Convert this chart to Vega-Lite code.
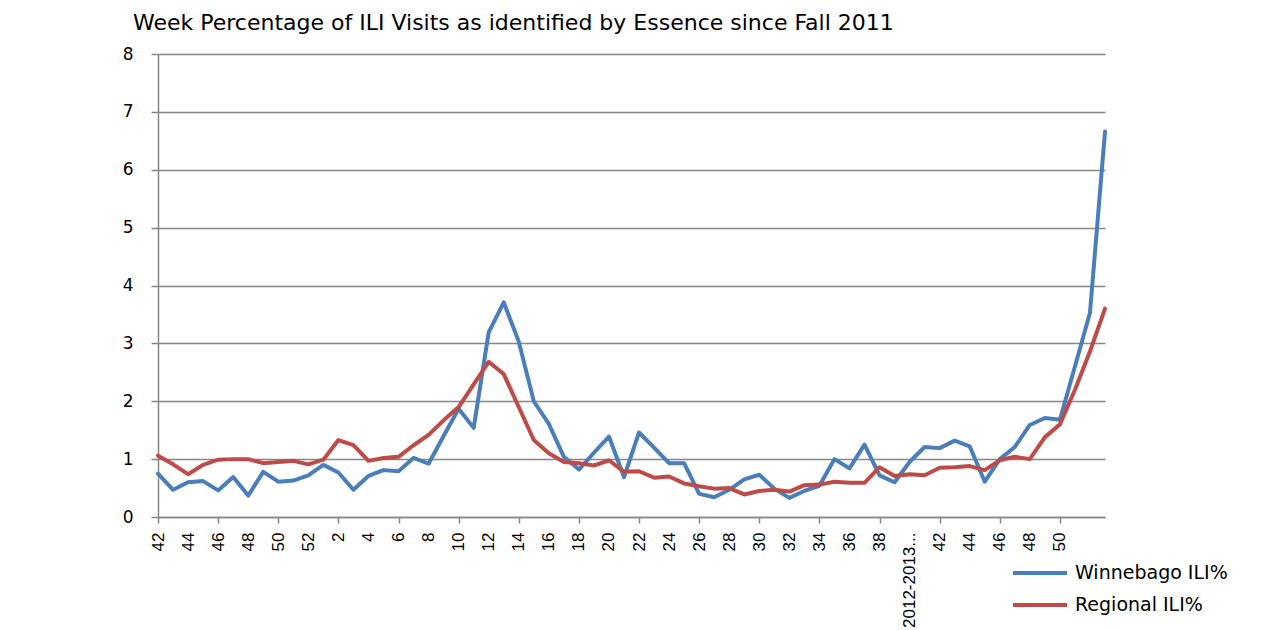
{
  "$schema": "https://vega.github.io/schema/vega-lite/v6.json",
  "width": 947,
  "height": 463,
  "autosize": {"type": "none"},
  "padding": {"left": 158, "top": 54, "right": 169, "bottom": 113},
  "background": "white",
  "title": {
    "text": "Week Percentage of ILI Visits as identified by Essence since Fall 2011",
    "anchor": "start",
    "frame": "group",
    "dx": -25,
    "offset": 10,
    "font": "DejaVu Sans",
    "fontSize": 22,
    "fontWeight": "normal",
    "color": "#000000"
  },
  "data": {
    "values": [
      {"week": "2011|42", "Winnebago ILI%": 0.75, "Regional ILI%": 1.06},
      {"week": "2011|43", "Winnebago ILI%": 0.47, "Regional ILI%": 0.91},
      {"week": "2011|44", "Winnebago ILI%": 0.60, "Regional ILI%": 0.74},
      {"week": "2011|45", "Winnebago ILI%": 0.62, "Regional ILI%": 0.90},
      {"week": "2011|46", "Winnebago ILI%": 0.46, "Regional ILI%": 0.99},
      {"week": "2011|47", "Winnebago ILI%": 0.69, "Regional ILI%": 1.00},
      {"week": "2011|48", "Winnebago ILI%": 0.37, "Regional ILI%": 1.00},
      {"week": "2011|49", "Winnebago ILI%": 0.78, "Regional ILI%": 0.93},
      {"week": "2011|50", "Winnebago ILI%": 0.61, "Regional ILI%": 0.95},
      {"week": "2011|51", "Winnebago ILI%": 0.63, "Regional ILI%": 0.97},
      {"week": "2011|52", "Winnebago ILI%": 0.72, "Regional ILI%": 0.91},
      {"week": "2012|1", "Winnebago ILI%": 0.90, "Regional ILI%": 0.99},
      {"week": "2012|2", "Winnebago ILI%": 0.77, "Regional ILI%": 1.33},
      {"week": "2012|3", "Winnebago ILI%": 0.47, "Regional ILI%": 1.24},
      {"week": "2012|4", "Winnebago ILI%": 0.71, "Regional ILI%": 0.97},
      {"week": "2012|5", "Winnebago ILI%": 0.81, "Regional ILI%": 1.02},
      {"week": "2012|6", "Winnebago ILI%": 0.79, "Regional ILI%": 1.04},
      {"week": "2012|7", "Winnebago ILI%": 1.02, "Regional ILI%": 1.24},
      {"week": "2012|8", "Winnebago ILI%": 0.92, "Regional ILI%": 1.42},
      {"week": "2012|9", "Winnebago ILI%": 1.40, "Regional ILI%": 1.67},
      {"week": "2012|10", "Winnebago ILI%": 1.87, "Regional ILI%": 1.90},
      {"week": "2012|11", "Winnebago ILI%": 1.54, "Regional ILI%": 2.29},
      {"week": "2012|12", "Winnebago ILI%": 3.19, "Regional ILI%": 2.68},
      {"week": "2012|13", "Winnebago ILI%": 3.71, "Regional ILI%": 2.47},
      {"week": "2012|14", "Winnebago ILI%": 3.03, "Regional ILI%": 1.90},
      {"week": "2012|15", "Winnebago ILI%": 2.00, "Regional ILI%": 1.33},
      {"week": "2012|16", "Winnebago ILI%": 1.61, "Regional ILI%": 1.10},
      {"week": "2012|17", "Winnebago ILI%": 1.04, "Regional ILI%": 0.95},
      {"week": "2012|18", "Winnebago ILI%": 0.82, "Regional ILI%": 0.93},
      {"week": "2012|19", "Winnebago ILI%": 1.11, "Regional ILI%": 0.89},
      {"week": "2012|20", "Winnebago ILI%": 1.39, "Regional ILI%": 0.98},
      {"week": "2012|21", "Winnebago ILI%": 0.69, "Regional ILI%": 0.78},
      {"week": "2012|22", "Winnebago ILI%": 1.46, "Regional ILI%": 0.79},
      {"week": "2012|23", "Winnebago ILI%": 1.20, "Regional ILI%": 0.68},
      {"week": "2012|24", "Winnebago ILI%": 0.93, "Regional ILI%": 0.70},
      {"week": "2012|25", "Winnebago ILI%": 0.93, "Regional ILI%": 0.58},
      {"week": "2012|26", "Winnebago ILI%": 0.40, "Regional ILI%": 0.53},
      {"week": "2012|27", "Winnebago ILI%": 0.34, "Regional ILI%": 0.49},
      {"week": "2012|28", "Winnebago ILI%": 0.47, "Regional ILI%": 0.50},
      {"week": "2012|29", "Winnebago ILI%": 0.65, "Regional ILI%": 0.39},
      {"week": "2012|30", "Winnebago ILI%": 0.73, "Regional ILI%": 0.45},
      {"week": "2012|31", "Winnebago ILI%": 0.49, "Regional ILI%": 0.47},
      {"week": "2012|32", "Winnebago ILI%": 0.33, "Regional ILI%": 0.44},
      {"week": "2012|33", "Winnebago ILI%": 0.45, "Regional ILI%": 0.55},
      {"week": "2012|34", "Winnebago ILI%": 0.54, "Regional ILI%": 0.56},
      {"week": "2012|35", "Winnebago ILI%": 1.00, "Regional ILI%": 0.61},
      {"week": "2012|36", "Winnebago ILI%": 0.84, "Regional ILI%": 0.59},
      {"week": "2012|37", "Winnebago ILI%": 1.25, "Regional ILI%": 0.59},
      {"week": "2012|38", "Winnebago ILI%": 0.72, "Regional ILI%": 0.86},
      {"week": "2012|39", "Winnebago ILI%": 0.60, "Regional ILI%": 0.71},
      {"week": "2012|2012-2013...", "Winnebago ILI%": 0.95, "Regional ILI%": 0.74},
      {"week": "2012|41", "Winnebago ILI%": 1.21, "Regional ILI%": 0.72},
      {"week": "2012|42", "Winnebago ILI%": 1.19, "Regional ILI%": 0.85},
      {"week": "2012|43", "Winnebago ILI%": 1.32, "Regional ILI%": 0.86},
      {"week": "2012|44", "Winnebago ILI%": 1.22, "Regional ILI%": 0.88},
      {"week": "2012|45", "Winnebago ILI%": 0.61, "Regional ILI%": 0.81},
      {"week": "2012|46", "Winnebago ILI%": 1.00, "Regional ILI%": 0.98},
      {"week": "2012|47", "Winnebago ILI%": 1.21, "Regional ILI%": 1.04},
      {"week": "2012|48", "Winnebago ILI%": 1.59, "Regional ILI%": 1.00},
      {"week": "2012|49", "Winnebago ILI%": 1.71, "Regional ILI%": 1.38},
      {"week": "2012|50", "Winnebago ILI%": 1.68, "Regional ILI%": 1.60},
      {"week": "2012|51", "Winnebago ILI%": 2.60, "Regional ILI%": 2.20},
      {"week": "2012|52", "Winnebago ILI%": 3.53, "Regional ILI%": 2.86},
      {"week": "2013|1", "Winnebago ILI%": 6.66, "Regional ILI%": 3.60}
    ]
  },
  "transform": [
    {"fold": ["Winnebago ILI%", "Regional ILI%"], "as": ["series", "value"]}
  ],
  "mark": {"type": "line", "strokeWidth": 4, "strokeJoin": "round", "strokeCap": "round"},
  "encoding": {
    "x": {
      "field": "week",
      "type": "ordinal",
      "sort": null,
      "scale": {"padding": 0},
      "axis": {
        "title": null,
        "values": ["2011|42", "2011|44", "2011|46", "2011|48", "2011|50", "2011|52", "2012|2", "2012|4", "2012|6", "2012|8", "2012|10", "2012|12", "2012|14", "2012|16", "2012|18", "2012|20", "2012|22", "2012|24", "2012|26", "2012|28", "2012|30", "2012|32", "2012|34", "2012|36", "2012|38", "2012|2012-2013...", "2012|42", "2012|44", "2012|46", "2012|48", "2012|50"],
        "labelExpr": "split(datum.value, '|')[1]",
        "labelAngle": -90,
        "labelAlign": "right",
        "labelBaseline": "middle",
        "labelFont": "Liberation Sans",
        "labelFontSize": 17,
        "labelColor": "#000000",
        "labelPadding": 9,
        "labelOverlap": false,
        "labelLimit": 200,
        "domainColor": "#868686",
        "domainWidth": 1.5,
        "tickColor": "#868686",
        "tickWidth": 1.5,
        "tickSize": 6,
        "tickOpacity": {"condition": {"test": "toNumber(split(datum.value, '|')[1]) % 4 == 2", "value": 1}, "value": 0},
        "grid": false
      }
    },
    "y": {
      "field": "value",
      "type": "quantitative",
      "scale": {"domain": [0, 8], "nice": false, "zero": true},
      "axis": {
        "title": null,
        "values": [0, 1, 2, 3, 4, 5, 6, 7, 8],
        "labelFont": "DejaVu Sans",
        "labelFontSize": 17,
        "labelColor": "#000000",
        "labelPadding": 18,
        "tickSize": 7,
        "tickColor": "#868686",
        "tickWidth": 1.5,
        "domainColor": "#868686",
        "domainWidth": 1.5,
        "grid": true,
        "gridColor": "#868686",
        "gridWidth": 1.5
      }
    },
    "color": {
      "field": "series",
      "type": "nominal",
      "scale": {"domain": ["Winnebago ILI%", "Regional ILI%"], "range": ["#4A7EBB", "#BE4B48"]},
      "legend": {
        "title": null,
        "orient": "none",
        "legendX": 871,
        "legendY": 508,
        "padding": 0,
        "symbolType": "M-3,0H3",
        "symbolSize": 324,
        "symbolStrokeWidth": 4,
        "labelOffset": 24,
        "labelFont": "DejaVu Sans",
        "labelFontSize": 19,
        "labelColor": "#000000",
        "labelLimit": 300,
        "rowPadding": 11
      }
    }
  },
  "config": {
    "view": {"stroke": null}
  }
}
